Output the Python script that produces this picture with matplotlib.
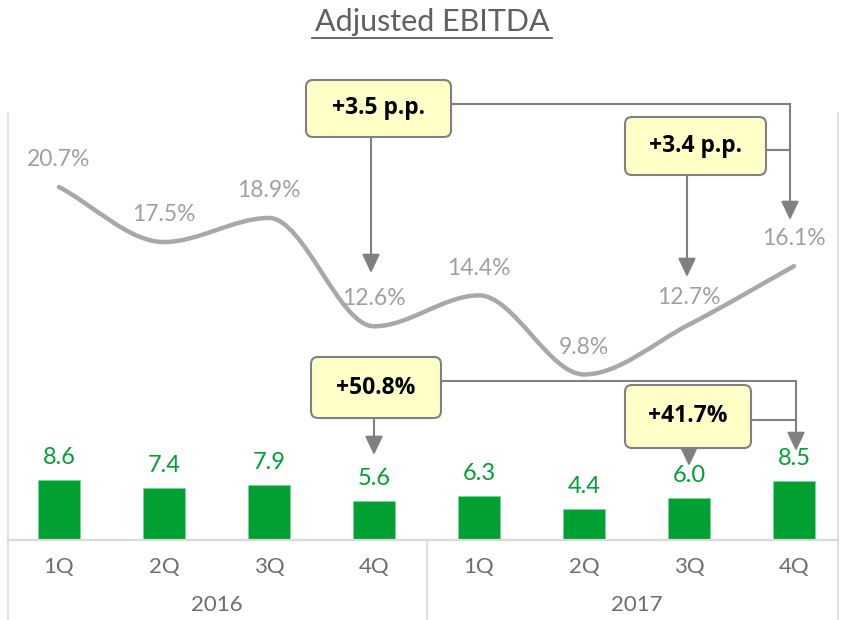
import numpy as np
import matplotlib
matplotlib.use("Agg")
from matplotlib import pyplot as plt
from matplotlib.path import Path
from matplotlib.patches import PathPatch, FancyBboxPatch
from matplotlib.transforms import blended_transform_factory

plt.rcParams['font.family'] = ['Lato', 'DejaVu Sans']

quarters = ["1Q", "2Q", "3Q", "4Q", "1Q", "2Q", "3Q", "4Q"]
years = ["2016", "2017"]
ebitda = [8.6, 7.4, 7.9, 5.6, 6.3, 4.4, 6.0, 8.5]
margin = [20.7, 17.5, 18.9, 12.6, 14.4, 9.8, 12.7, 16.1]
callouts = ["+3.5 p.p.", "+3.4 p.p.", "+50.8%", "+41.7%"]

GREEN = "#00a032"
LINE = "#a8a8a8"
TXT = "#6e6e6e"
GRID = "#d9d9d9"
ARR = "#808080"

fig = plt.figure(figsize=(8.5, 6.2), dpi=100)
W, H = 850, 620

# bars axis (pixel mapping: index 0 -> x=59, 105 px/step; baseline y=540, 7 px/unit)
ax = fig.add_axes([0, 0, 1, 1])
ax.set_xlim(-59 / 105, (W - 59) / 105)
ax.set_ylim(-(H - 540) / 7, 540 / 7)
ax.axis("off")

x = np.arange(len(quarters))
ax.bar(x, ebitda, width=0.4, color=GREEN, edgecolor="#7fd39a", linewidth=0.6, zorder=2)
for xi, v in zip(x, ebitda):
    ax.annotate(f"{v:.1f}", (xi, v), xytext=(0, 11.5), textcoords="offset points",
                ha="center", va="baseline", color=GREEN, fontsize=17)

# line axis (20.7 -> y=187 from top, 17.2 px per %)
lx = ax.twinx()
lx.set_xlim(ax.get_xlim())
lx.set_ylim(20.7 - (H - 187) / 17.2, 20.7 + 187 / 17.2)
lx.axis("off")

# smooth monotone curve through the points (cubic Bezier segments)
y = np.array(margin)
d = np.diff(y)
m = np.zeros(len(y))
m[0], m[-1] = d[0], d[-1]
for i in range(1, len(y) - 1):
    if d[i - 1] * d[i] > 0:
        m[i] = 2 / (1 / d[i - 1] + 1 / d[i])
verts = [(x[0], y[0])]
codes = [Path.MOVETO]
for i in range(len(y) - 1):
    verts += [(x[i] + 1 / 3, y[i] + m[i] / 3), (x[i + 1] - 1 / 3, y[i + 1] - m[i + 1] / 3),
              (x[i + 1], y[i + 1])]
    codes += [Path.CURVE4] * 3
lx.add_patch(PathPatch(Path(verts, codes), fill=False, edgecolor=LINE, lw=3.2,
                       capstyle="round", zorder=3))
for xi, v in zip(x, margin):
    lx.annotate(f"{v}%", (xi, v), xytext=(0, 15), textcoords="offset points",
                ha="center", va="baseline", color="#a0a0a0", fontsize=16.5)

# overlay in pixel coordinates for frame, labels and callouts
ov = fig.add_axes([0, 0, 1, 1], zorder=5)
ov.set_xlim(0, W)
ov.set_ylim(H, 0)
ov.axis("off")
ov.patch.set_alpha(0)

ov.plot([8, 838], [540, 540], color=GRID, lw=1.6)
ov.plot([8, 8], [113, 620], color=GRID, lw=1.2)
ov.plot([838, 838], [113, 620], color=GRID, lw=1.2)

bt = blended_transform_factory(ax.transData, ov.transData)
ov.plot([3.5, 3.5], [540, 620], color=GRID, lw=1.2, transform=bt)
for xi, q in zip(x, quarters):
    ov.text(xi, 567, q, transform=bt, ha="center", va="center", color=TXT, fontsize=16)
for k, yr in enumerate(years):
    ov.text(1.5 + 4 * k, 605, yr, transform=bt, ha="center", va="center", color=TXT, fontsize=16)

ov.text(432, 22, "Adjusted EBITDA", ha="center", va="center", color="#606060", fontsize=22)
ov.plot([312, 552], [38, 38], color="#606060", lw=1.3)


def box(x0, y0, x1, y1, label):
    ov.add_patch(FancyBboxPatch((x0, y0), x1 - x0, y1 - y0,
                                boxstyle="round,pad=0,rounding_size=7",
                                facecolor="#ffffc8", edgecolor=ARR, lw=1.5, zorder=6))
    ov.text((x0 + x1) / 2, (y0 + y1) / 2, label, ha="center", va="center",
            fontsize=16.5, fontweight="bold", color="black", zorder=7,
            family=["Open Sans", "DejaVu Sans"])


def arrow(pts):
    xs, ys = zip(*pts)
    if len(pts) > 2:
        ov.plot(xs[:-1], ys[:-1], color=ARR, lw=1.5, zorder=5)
    ov.annotate("", xy=pts[-1], xytext=pts[-2],
                arrowprops=dict(arrowstyle="-|>,head_length=0.95,head_width=0.45",
                                mutation_scale=12, color=ARR, lw=1.5, shrinkA=0, shrinkB=0),
                zorder=5)


def link(pts):
    xs, ys = zip(*pts)
    ov.plot(xs, ys, color=ARR, lw=1.5, zorder=5)


arrow([(451, 104), (790, 104), (790, 220)])
link([(766, 150), (790, 150)])
arrow([(371, 137), (371, 273)])
arrow([(687, 175), (687, 277)])
box(306, 80, 451, 137, callouts[0])
box(625, 117, 766, 175, callouts[1])

arrow([(441, 381), (796, 381), (796, 451)])
link([(751, 420), (796, 420)])
arrow([(374, 418), (374, 455)])
arrow([(689, 448), (689, 466)])
box(311, 357, 441, 418, callouts[2])
box(625, 385, 751, 448, callouts[3])

fig.savefig("out.png", dpi=100)
